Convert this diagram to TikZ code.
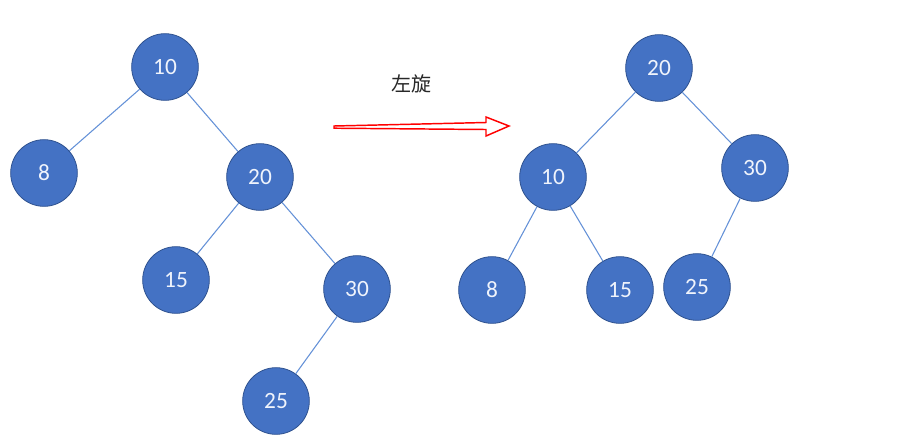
\documentclass[tikz,border=0pt]{standalone}
\usepackage{fontspec}
\setmainfont{Carlito}
\newfontfamily\cjk{Noto Sans CJK SC}
\begin{document}
\begin{tikzpicture}[x=0.75pt,y=-0.75pt,
  tnode/.style={circle,minimum size=50pt,inner sep=0pt,fill={rgb,255:red,68;green,114;blue,196},draw={rgb,255:red,47;green,82;blue,143},line width=0.6pt,text={rgb,255:red,240;green,244;blue,252},font=\fontsize{17.5}{20}\selectfont},
  edge/.style={draw={rgb,255:red,100;green,145;blue,215},line width=0.8pt}]
\useasboundingbox (0,0) rectangle (915,444);
% left tree
\node[tnode] (a10) at (165,67) {10};
\node[tnode] (a8) at (44,173) {8};
\node[tnode] (a20) at (260,177) {20};
\node[tnode] (a15) at (176,280) {15};
\node[tnode] (a30) at (357,289) {30};
\node[tnode] (a25) at (276,401) {25};
\draw[edge] (a10) -- (a8);
\draw[edge] (a10) -- (a20);
\draw[edge] (a20) -- (a15);
\draw[edge] (a20) -- (a30);
\draw[edge] (a30) -- (a25);
% right tree
\node[tnode] (b20) at (659,68) {20};
\node[tnode] (b10) at (553,177) {10};
\node[tnode] (b30) at (755,168) {30};
\node[tnode] (b8) at (492,290) {8};
\node[tnode] (b15) at (620,290) {15};
\node[tnode] (b25) at (697,287) {25};
\draw[edge] (b20) -- (b10);
\draw[edge] (b20) -- (b30);
\draw[edge] (b10) -- (b8);
\draw[edge] (b10) -- (b15);
\draw[edge] (b30) -- (b25);
% arrow
\node[font=\cjk\fontsize{15}{18}\selectfont,text={rgb,255:red,40;green,40;blue,40}] (lbl) at (411,84) {左旋};
\coordinate (as) at (334,126);
\draw[red,line width=1.1pt,fill=white,line join=miter]
  (as) -- (486,122.5) -- (486,117) -- (509,126) -- (486,136) -- (486,129.5) -- (334,128.2) -- cycle;
\end{tikzpicture}
\end{document}
